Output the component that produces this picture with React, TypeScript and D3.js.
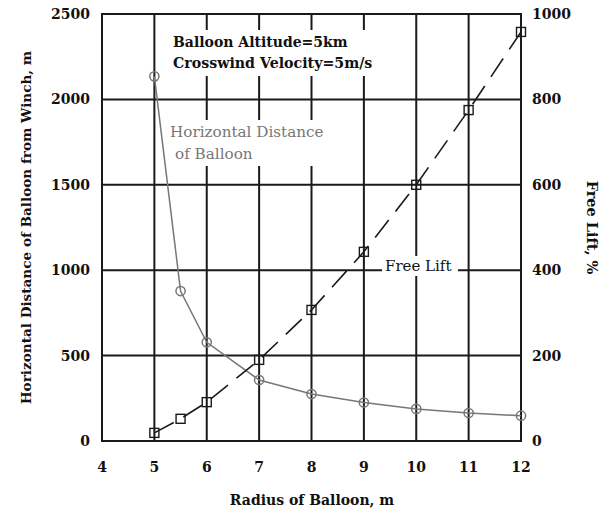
import React from "react";
import * as d3 from "d3";

const radius = [5, 5.5, 6, 7, 8, 9, 10, 11, 12];
const horizDist = [2135, 878, 578, 357, 275, 225, 188, 164, 148];
const freeLift = [19, 52, 91, 190, 307, 443, 600, 775, 958];
const xTicks = [4, 5, 6, 7, 8, 9, 10, 11, 12];
const yLeftTicks = [0, 500, 1000, 1500, 2000, 2500];
const yRightTicks = [0, 200, 400, 600, 800, 1000];

const W = 606, H = 512;
const L = 102, R = 521, T = 14, B = 441;
const FONT = "'DejaVu Serif', 'Liberation Serif', serif";

export default function App() {
  const x = d3.scaleLinear().domain([4, 12]).range([L, R]);
  const yL = d3.scaleLinear().domain([0, 2500]).range([B, T]);
  const yR = d3.scaleLinear().domain([0, 1000]).range([B, T]);
  const distLine = d3.line<number>().x((_, i) => x(radius[i])).y((d) => yL(d));
  const liftLine = d3.line<number>().x((_, i) => x(radius[i])).y((d) => yR(d));
  const stroke = "#1a1a1a";
  return (
    <svg width={W} height={H} style={{ position: "absolute", left: 0, top: 0, background: "#fff" }}>
      <rect x={0} y={0} width={W} height={H} fill="#fff" />
      {/* grid */}
      {xTicks.slice(1, -1).map((t) => (
        <line key={"vx" + t} x1={x(t)} x2={x(t)} y1={T} y2={B} stroke={stroke} strokeWidth={2} />
      ))}
      {yLeftTicks.slice(1, -1).map((t) => (
        <line key={"hy" + t} x1={L} x2={R} y1={yL(t)} y2={yL(t)} stroke={stroke} strokeWidth={2} />
      ))}
      {/* text boxes (white backgrounds break the grid) */}
      <rect x={166} y={30} width={206} height={46} fill="#fff" />
      <rect x={166} y={120} width={160} height={46} fill="#fff" />
      <rect x={382} y={256} width={76} height={20} fill="#fff" />
      {/* frame */}
      <rect x={L} y={T} width={R - L} height={B - T} fill="none" stroke={stroke} strokeWidth={2} />
      {/* curves */}
      <path d={distLine(horizDist) || ""} fill="none" stroke="#777" strokeWidth={1.5} />
      {horizDist.map((d, i) => (
        <circle key={"c" + i} cx={x(radius[i])} cy={yL(d)} r={4.6} fill="none" stroke="#777" strokeWidth={1.5} />
      ))}
      <path d={liftLine(freeLift) || ""} fill="none" stroke={stroke} strokeWidth={1.6} strokeDasharray="22,11" />
      {freeLift.map((d, i) => (
        <rect key={"s" + i} x={x(radius[i]) - 4.5} y={yR(d) - 4.5} width={9} height={9} fill="none" stroke={stroke} strokeWidth={1.4} />
      ))}
      {/* tick labels */}
      {xTicks.map((t) => (
        <text key={"xt" + t} x={x(t)} y={472} textAnchor="middle" fontFamily={FONT} fontWeight="bold" fontSize={14} fill="#111">{t}</text>
      ))}
      {yLeftTicks.map((t) => (
        <text key={"yl" + t} x={90} y={yL(t) + 5} textAnchor="end" fontFamily={FONT} fontWeight="bold" fontSize={14} fill="#111">{t}</text>
      ))}
      {yRightTicks.map((t) => (
        <text key={"yr" + t} x={532} y={yR(t) + 5} textAnchor="start" fontFamily={FONT} fontWeight="bold" fontSize={14} fill="#111">{t}</text>
      ))}
      {/* axis titles */}
      <text x={312} y={505} textAnchor="middle" fontFamily={FONT} fontWeight="bold" fontSize={14} fill="#111">Radius of Balloon, m</text>
      <text transform={`translate(31,${(T + B) / 2}) rotate(-90)`} textAnchor="middle" fontFamily={FONT} fontWeight="bold" fontSize={13.6} fill="#111">Horizontal Distance of Balloon from Winch, m</text>
      <text transform={`translate(587,${(T + B) / 2}) rotate(90)`} textAnchor="middle" fontFamily={FONT} fontWeight="bold" fontSize={14.5} fill="#111">Free Lift, %</text>
      {/* annotations */}
      <text x={173} y={47} fontFamily={FONT} fontWeight="bold" fontSize={14} fill="#111">Balloon Altitude=5km</text>
      <text x={173} y={68} fontFamily={FONT} fontWeight="bold" fontSize={14.2} fill="#111">Crosswind Velocity=5m/s</text>
      <text x={170} y={137} fontFamily={FONT} fontSize={15.2} fill="#777">Horizontal Distance</text>
      <text x={175} y={159} fontFamily={FONT} fontSize={15.2} fill="#777">of Balloon</text>
      <text x={385} y={271} fontFamily={FONT} fontSize={15} fill="#111">Free Lift</text>
    </svg>
  );
}
